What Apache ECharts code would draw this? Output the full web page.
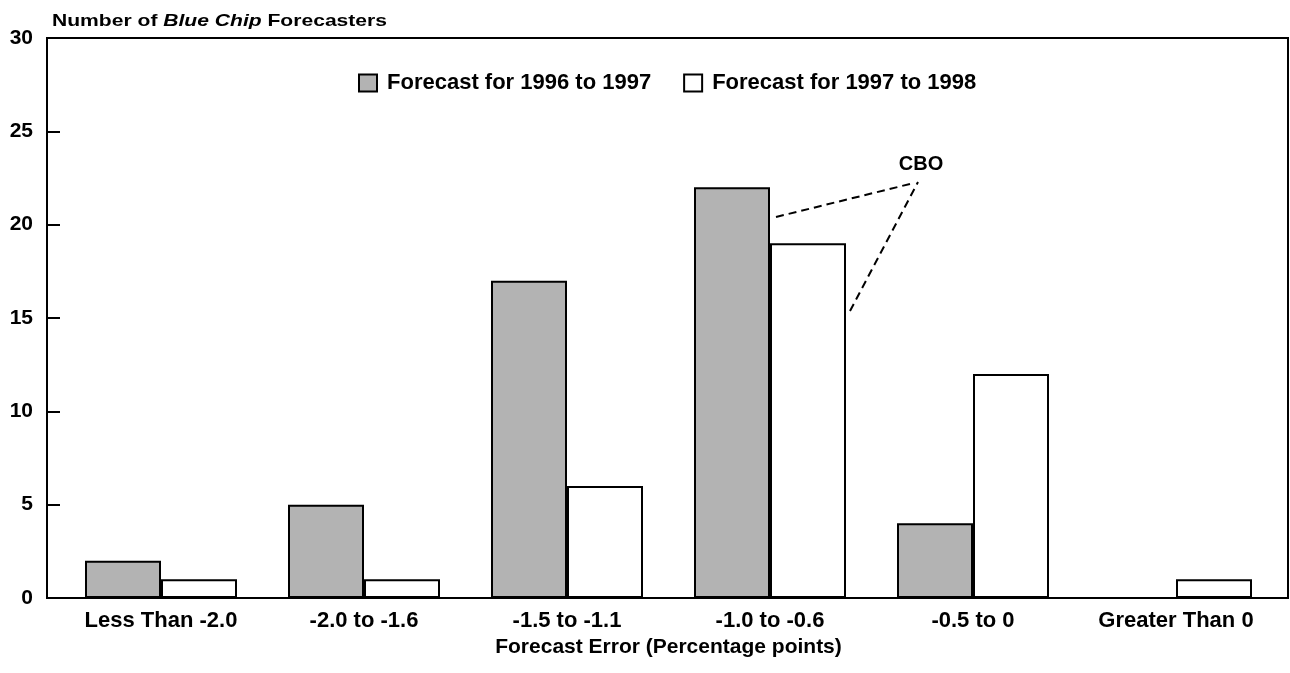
<!DOCTYPE html>
<html>
<head>
<meta charset="utf-8">
<script src="https://cdn.jsdelivr.net/npm/echarts@6/dist/echarts.min.js"></script>
<style>
  html, body { margin: 0; padding: 0; background: #fff; }
  #chart { width: 1290px; height: 673px; }
</style>
</head>
<body>
<div id="chart"></div>
<script>
const categories = ['Less Than -2.0', '-2.0 to -1.6', '-1.5 to -1.1', '-1.0 to -0.6', '-0.5 to 0', 'Greater Than 0']
const forecast9697 = [2, 5, 17, 22, 4, 0]
const forecast9798 = [1, 1, 6, 19, 12, 1]
const seriesNames = ['Forecast for 1996 to 1997', 'Forecast for 1997 to 1998']

const font = 'Liberation Sans, Arial, sans-serif'
const chart = echarts.init(document.getElementById('chart'))

chart.setOption({
  backgroundColor: '#fff',
  animation: false,
  legend: {
    left: 358,
    top: 72,
    padding: 0,
    itemWidth: 18,
    itemHeight: 17,
    itemGap: 32,
    icon: 'rect',
    textStyle: { fontFamily: font, fontWeight: 'bold', fontSize: 22, color: '#000', padding: [0, 0, 0, 5] },
    data: seriesNames
  },
  grid: {
    left: 59.5,
    right: 12.5,
    top: 38,
    bottom: 75,
    containLabel: false
  },
  xAxis: {
    type: 'category',
    data: categories,
    name: 'Forecast Error (Percentage points)',
    nameLocation: 'middle',
    nameGap: 37,
    nameTextStyle: { fontFamily: font, fontWeight: 'bold', fontSize: 21, color: '#000' },
    axisLine: { lineStyle: { color: '#000', width: 2 } },
    axisTick: { show: false },
    axisLabel: { fontFamily: font, fontWeight: 'bold', fontSize: 22, color: '#000', margin: 12 }
  },
  yAxis: {
    type: 'value',
    min: 0,
    max: 30,
    interval: 5,
    offset: 12.5,
    axisLine: { show: true, lineStyle: { color: '#000', width: 2 } },
    axisTick: { show: true, inside: true, length: 13, lineStyle: { color: '#000', width: 2 } },
    axisLabel: { fontFamily: font, fontWeight: 'bold', fontSize: 21, color: '#000', margin: 14, padding: [4, 0, 0, 0] },
    splitLine: { show: false }
  },
  series: [
    {
      name: seriesNames[0],
      type: 'bar',
      barWidth: 76,
      barGap: '0%',
      itemStyle: { color: '#b3b3b3', borderColor: '#000', borderWidth: 2 },
      data: forecast9697
    },
    {
      name: seriesNames[1],
      type: 'bar',
      barWidth: 76,
      barGap: '0%',
      itemStyle: { color: '#fff', borderColor: '#000', borderWidth: 2 },
      data: forecast9798
    }
  ],
  graphic: [
    // y axis title, drawn a little wide like the original
    {
      type: 'text',
      x: 52,
      y: 21,
      scaleX: 1.24,
      style: {
        text: '{b|Number of }{i|Blue Chip}{b| Forecasters}',
        verticalAlign: 'middle',
        rich: {
          b: { fontFamily: font, fontWeight: 'bold', fontSize: 17, fill: '#000' },
          i: { fontFamily: font, fontWeight: 'bold', fontStyle: 'italic', fontSize: 17, fill: '#000' }
        }
      }
    },
    // frame around plot
    {
      type: 'rect',
      shape: { x: 47, y: 38, width: 1241, height: 560 },
      style: { fill: null, stroke: '#000', lineWidth: 2 },
      silent: true
    },
    // CBO callout
    {
      type: 'text',
      x: 921,
      y: 164,
      style: {
        text: 'CBO',
        fontFamily: font,
        fontWeight: 'bold',
        fontSize: 20,
        fill: '#000',
        align: 'center',
        verticalAlign: 'middle'
      }
    },
    {
      type: 'line',
      shape: { x1: 776, y1: 217, x2: 914, y2: 183 },
      style: { stroke: '#000', lineWidth: 2, lineDash: [8, 5] }
    },
    {
      type: 'line',
      shape: { x1: 850, y1: 311, x2: 918, y2: 182 },
      style: { stroke: '#000', lineWidth: 2, lineDash: [8, 5] }
    }
  ]
})
</script>
</body>
</html>
